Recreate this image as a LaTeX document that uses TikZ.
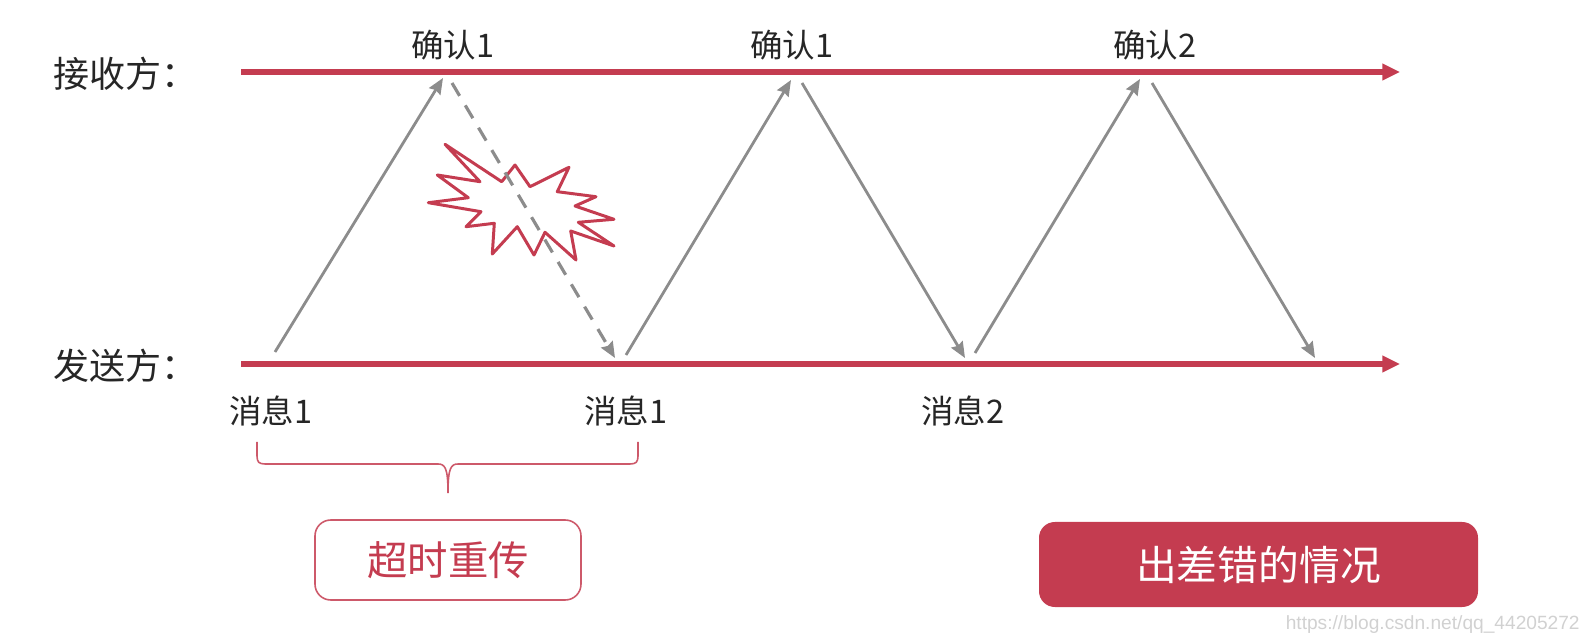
\documentclass[tikz,border=0pt]{standalone}
\usepackage{fontspec}
\setmainfont{Noto Sans CJK SC}
\newfontfamily\markfont{Liberation Sans}
\usetikzlibrary{arrows.meta}
\definecolor{alarmred}{HTML}{C43C50}
\definecolor{msggray}{HTML}{8C8C8C}

\begin{document}
\begin{tikzpicture}[
  x=0.02cm, y=-0.02cm,
  axis/.style={draw=alarmred, line width=3.2pt, -{Stealth[length=10pt,width=9pt,inset=0pt]}},
  msg/.style={draw=msggray, line width=1.6pt, -{Stealth[length=9pt,width=7.5pt,inset=1pt]}},
  lost/.style={msg, line width=1.8pt, dash pattern=on 8.5pt off 6.3pt},
  lbl/.style={inner sep=0pt, text=black!85, font=\fontsize{18.5}{22}\selectfont},
  side/.style={lbl, anchor=west, font=\fontsize{20.5}{24}\selectfont},
  tagbox/.style={rounded corners=9pt, inner sep=0pt, align=center}]
  \useasboundingbox (0,0) rectangle (1588,644);
  % ends of the two time lines
  \coordinate (r0) at (241,72);
  \coordinate (r1) at (1400,72);
  \coordinate (s0) at (241,364);
  \coordinate (s1) at (1400,364);
  % side labels
  \node[side] (recv) at (53,74) {接收方：};
  \node[side] (send) at (53,366) {发送方：};
  \draw[axis] (r0) -- (r1);
  \draw[axis] (s0) -- (s1);
  % labels on the lines
  \node[lbl] (ack1) at (453,45) {确认1};
  \node[lbl] (ack2) at (792,45) {确认1};
  \node[lbl] (ack3) at (1155,45) {确认2};
  \node[lbl] (msg1) at (271,411) {消息1};
  \node[lbl] (msg2) at (626,411) {消息1};
  \node[lbl] (msg3) at (963,411) {消息2};
  % the burst
  \draw[alarmred, line width=1.7pt, line join=round, fill=white] (445,144.3) -- (501.7,181.7) -- (515,165) -- (530,186.7)
    -- (569,167.3) -- (557.3,191.7) -- (596,196.7) -- (575,206) -- (614,219.3) -- (578.3,222.3)
    -- (614,246) -- (570.7,231) -- (576,260) -- (545,232.3) -- (534,255) -- (517.3,226.7)
    -- (492.3,254) -- (494.3,223.3) -- (466,226.7) -- (481,211.7) -- (428.3,202.7) -- (468.3,197.7)
    -- (437.3,175) -- (480,181.7) -- cycle;
  % message ends
  \coordinate (a0) at (275,352);
  \coordinate (a1) at (443,78);
  \coordinate (b0) at (452,83);
  \coordinate (b1) at (615,358);
  \coordinate (c0) at (626,355);
  \coordinate (c1) at (791,80);
  \coordinate (d0) at (802,83);
  \coordinate (d1) at (965,358);
  \coordinate (e0) at (975,353);
  \coordinate (e1) at (1140,79);
  \coordinate (f0) at (1152,83);
  \coordinate (f1) at (1315,358);
  \draw[msg] (a0) -- (a1);
  \draw[lost] (b0) -- (b1);
  \draw[msg] (c0) -- (c1);
  \draw[msg] (d0) -- (d1);
  \draw[msg] (e0) -- (e1);
  \draw[msg] (f0) -- (f1);
  % brace
  \coordinate (bl) at (257,442);
  \coordinate (br) at (638,442);
  \coordinate (bm) at (448,493);
  \draw[alarmred!85, line width=0.9pt] (bl) -- (257,456) .. controls (257,462) and (259,464) .. (265,464)
    -- (438,464) .. controls (445,464) and (448,468) .. (bm);
  \draw[alarmred!85, line width=0.9pt] (br) -- (638,456) .. controls (638,462) and (636,464) .. (630,464)
    -- (458,464) .. controls (451,464) and (448,468) .. (bm);
  % the two boxes
  \node[tagbox, draw=alarmred!85, line width=0.9pt, text=alarmred, minimum width=266*0.02cm, minimum height=80*0.02cm,
    font=\fontsize{23}{27}\selectfont] (retry) at (448,560) {超时重传};
  \node[tagbox, fill=alarmred, text=white, minimum width=439*0.02cm, minimum height=85*0.02cm,
    font=\fontsize{23.2}{28}\selectfont] (fault) at (1258.5,564.5) {出差错的情况};
  % watermark
  \node[inner sep=0pt, anchor=east, text=black!18, font=\markfont\fontsize{10.9}{12}\selectfont] (mark) at (1580,625) {https://blog.csdn.net/qq\_44205272};
\end{tikzpicture}
\end{document}
